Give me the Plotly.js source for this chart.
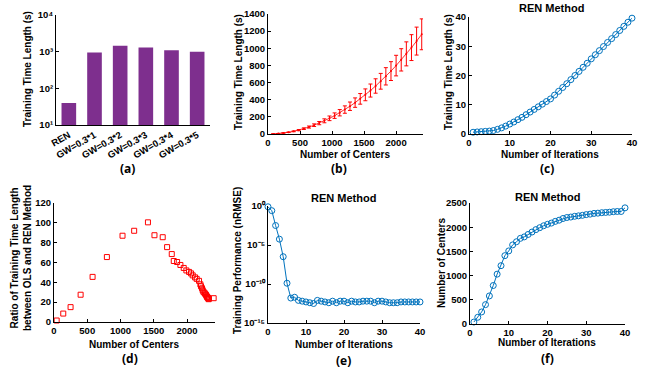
<!DOCTYPE html>
<html><head><meta charset="utf-8">
<script src="https://cdn.plot.ly/plotly-3.0.1.min.js"></script>
<style>html,body{margin:0;padding:0;background:#fff;}#chart{width:649px;height:370px;}</style>
</head><body><div id="chart"></div>
<script>
// (a) training time per method
const methods = ["REN", "GW=0.3*1", "GW=0.3*2", "GW=0.3*3", "GW=0.3*4", "GW=0.3*5"];
const methodTime = [40, 950, 1450, 1300, 1100, 1000];

// (b) training time vs number of centers (mean ± error)
const centersB = [80,160,240,320,400,480,560,640,720,800,880,960,1040,1120,1200,1280,1360,1440,1520,1600,1680,1760,1840,1920,2000,2080,2160,2240,2320,2400];
const timeB = [1,5,11,20,31,45,62,81,103,127,154,183,214,248,285,324,366,410,457,507,560,615,673,734,798,865,935,1008,1084,1163];
const errB = [0.2,0.8,1.7,3,4.7,6.8,9.3,12,15,19,23,27,32,37,43,49,55,62,69,76,84,92,101,110,120,130,140,151,163,180];

// iterations 1..40
const iters = [1,2,3,4,5,6,7,8,9,10,11,12,13,14,15,16,17,18,19,20,21,22,23,24,25,26,27,28,29,30,31,32,33,34,35,36,37,38,39,40];
// (c) cumulative training time of REN
const timeC = [0.6,0.7,0.8,0.9,1.0,1.2,1.6,2.1,2.7,3.4,4.1,4.9,5.7,6.6,7.5,8.4,9.3,10.2,11.1,12.0,13.3,14.6,15.9,17.2,18.6,20.0,21.4,22.8,24.2,25.7,27.1,28.5,29.9,31.3,32.6,34.0,35.4,36.8,38.2,39.6];
// (f) number of centers per iteration (also x of (d))
const centersF = [40,139,249,400,580,795,1030,1205,1412,1510,1634,1700,1770,1800,1850,1900,1950,1990,2030,2060,2085,2120,2145,2180,2200,2210,2225,2235,2245,2260,2270,2285,2290,2300,2305,2310,2320,2325,2325,2400];
// (d) ratio OLS / REN
const ratioD = [1.5,8.5,15,27.5,45.5,65.5,87,92,100.5,87.5,85.5,75.5,68.5,61.5,60.5,57.5,54.5,52,50.5,49,47,45,43.5,41.5,38,36,34,32,30.5,29.5,28.5,27.5,26.5,25.5,25,24.5,24,23.5,23,24];
// (e) nRMSE (exponent of 10) for iterations 0..40
const itersE = [0,1,2,3,4,5,6,7,8,9,10,11,12,13,14,15,16,17,18,19,20,21,22,23,24,25,26,27,28,29,30,31,32,33,34,35,36,37,38,39,40];
const nrmseExp = [-0.1,-0.6,-2.5,-4.25,-6.5,-9.9,-11.8,-11.7,-12.1,-12.2,-12.3,-12.4,-12.5,-12.1,-12.2,-12.3,-12.4,-12.2,-12.4,-12.2,-12.2,-12.4,-12.2,-12.3,-12.3,-12.2,-12.2,-12.2,-12.4,-12.2,-12.2,-12.3,-12.4,-12.4,-12.4,-12.3,-12.3,-12.3,-12.3,-12.3,-12.3];
const nrmse = nrmseExp.map(e => Math.pow(10, e));

// log-axis tick labels
const logTicksA = ["10¹", "10²", "10³", "10⁴"];
const logTicksE = ["10⁻¹⁵", "10⁻¹⁰", "10⁻⁵", "10⁰"];

const W = 649, H = 370;
const dx = (a, b) => [a / W, b / W];
const dy = (top, bot) => [1 - bot / H, 1 - top / H];
const FF = "Liberation Sans, Arial, sans-serif";
const tf = {family: FF, size: 9.5, color: "#000", weight: "bold"};
const BLUE = "#0072BD", RED = "#FF0000", PURPLE = "#7E2F8E";

function ax(extra) {
  return Object.assign({showline: true, linecolor: "#000", linewidth: 1, ticks: "inside", ticklen: 3,
    tickcolor: "#000", showgrid: false, zeroline: false, tickfont: tf, fixedrange: true}, extra);
}

const traces = [
  {type: "bar", x: methods, y: methodTime, marker: {color: PURPLE}, xaxis: "x", yaxis: "y"},
  {type: "scatter", mode: "lines+markers", x: centersB, y: timeB, xaxis: "x2", yaxis: "y2",
   line: {color: RED, width: 0.8}, marker: {color: RED, size: 2},
   error_y: {type: "data", array: errB, visible: true, color: RED, thickness: 1, width: 2}, cliponaxis: false},
  {type: "scatter", mode: "lines+markers", x: iters, y: timeC, xaxis: "x3", yaxis: "y3",
   line: {color: BLUE, width: 1}, marker: {symbol: "circle-open", color: BLUE, size: 6, line: {width: 1}}, cliponaxis: false},
  {type: "scatter", mode: "markers", x: centersF, y: ratioD, xaxis: "x4", yaxis: "y4",
   marker: {symbol: "square-open", color: RED, size: 5, line: {width: 1}}, cliponaxis: false},
  {type: "scatter", mode: "lines+markers", x: itersE, y: nrmse, xaxis: "x5", yaxis: "y5",
   line: {color: BLUE, width: 1}, marker: {symbol: "circle-open", color: BLUE, size: 6, line: {width: 1}}, cliponaxis: false},
  {type: "scatter", mode: "lines+markers", x: iters, y: centersF, xaxis: "x6", yaxis: "y6",
   line: {color: BLUE, width: 1}, marker: {symbol: "circle-open", color: BLUE, size: 6, line: {width: 1}}, cliponaxis: false}
];

const titleFont = {family: FF, size: 10, color: "#000", weight: "bold"};
const lblFont = {family: "Open Sans, DejaVu Sans, sans-serif", size: 12, color: "#000", weight: "bold"};
function ann(text, x, y, rot, font) {
  return {text: text, x: x / W, y: 1 - y / H, xref: "paper", yref: "paper", showarrow: false,
    xanchor: "center", yanchor: "middle", textangle: rot || 0, font: font || titleFont};
}
const hdrFont = {family: FF, size: 11, color: "#000", weight: "bold"};

const layout = {
  width: W, height: H, margin: {l: 0, r: 0, t: 0, b: 0}, showlegend: false,
  paper_bgcolor: "#fff", plot_bgcolor: "#fff", bargap: 0.43,
  xaxis: ax({domain: dx(56, 210), anchor: "y", type: "category", range: [-0.5, 5.5], tickangle: -30, ticklen: 0}),
  yaxis: ax({domain: dy(15, 125), anchor: "x", type: "log", range: [1, 4],
    tickvals: [10, 100, 1000, 10000], ticktext: logTicksA}),
  xaxis2: ax({domain: dx(268, 423), anchor: "y2", range: [0, 2420], tickvals: [0, 500, 1000, 1500, 2000]}),
  yaxis2: ax({domain: dy(14, 134), anchor: "x2", range: [0, 1400], dtick: 200}),
  xaxis3: ax({domain: dx(469, 632), anchor: "y3", range: [0, 40], dtick: 10}),
  yaxis3: ax({domain: dy(17, 134), anchor: "x3", range: [0, 40], dtick: 10}),
  xaxis4: ax({domain: dx(54, 215), anchor: "y4", range: [0, 2420], tickvals: [0, 500, 1000, 1500, 2000]}),
  yaxis4: ax({domain: dy(203, 322), anchor: "x4", range: [0, 120], dtick: 20}),
  xaxis5: ax({domain: dx(268, 420), anchor: "y5", range: [0, 40], dtick: 10}),
  yaxis5: ax({domain: dy(206, 323), anchor: "x5", type: "log", range: [-15, 0],
    tickvals: [1e-15, 1e-10, 1e-5, 1], ticktext: logTicksE}),
  xaxis6: ax({domain: dx(470, 625), anchor: "y6", range: [0, 40], dtick: 10}),
  yaxis6: ax({domain: dy(203, 324), anchor: "x6", range: [0, 2500], dtick: 500}),
  annotations: [
    ann("Training Time Length (s)", 27, 69, -90),
    ann("Training Time Length (s)", 238, 72, -90),
    ann("Training Time Length (s)", 448, 72, -90),
    ann("Ratio of Training Time Length<br>between OLS and REN Method", 21, 258, -90),
    ann("Training Performance (nRMSE)", 237, 261, -90),
    ann("Number of Centers", 441, 263, -90),
    ann("Number of Centers", 345, 155),
    ann("Number of Iterations", 550, 155),
    ann("Number of Centers", 134, 344),
    ann("Number of Iterations", 344, 344),
    ann("Number of Iterations", 547, 342),
    ann("REN Method", 551, 8, 0, hdrFont),
    ann("REN Method", 343, 198, 0, hdrFont),
    ann("REN Method", 547, 197, 0, hdrFont),
    ann("(a)", 127, 168, 0, lblFont),
    ann("(b)", 339, 168, 0, lblFont),
    ann("(c)", 547, 168, 0, lblFont),
    ann("(d)", 130, 358, 0, lblFont),
    ann("(e)", 343, 360, 0, lblFont),
    ann("(f)", 547, 358, 0, lblFont)
  ]
};

Plotly.newPlot("chart", traces, layout, {staticPlot: true, displayModeBar: false});
</script>
</body></html>
